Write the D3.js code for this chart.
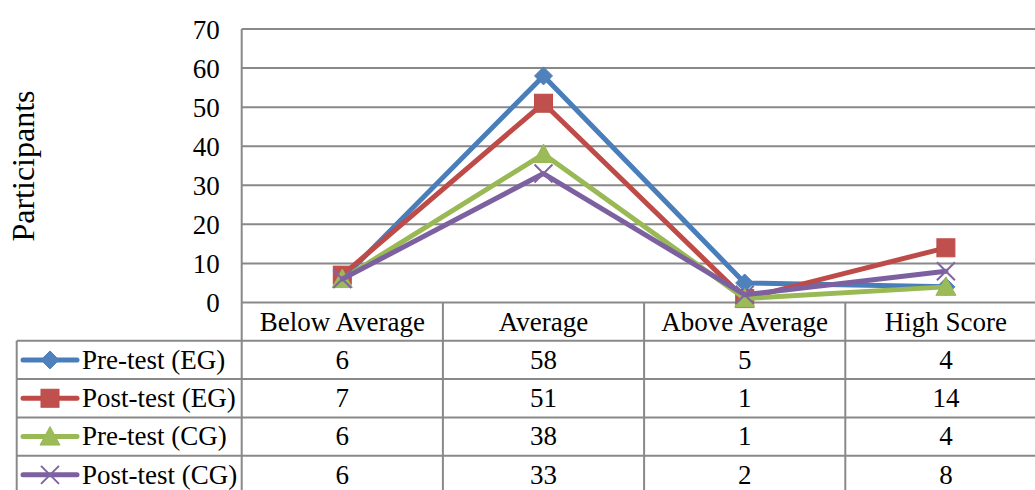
<!DOCTYPE html>
<html>
<head>
<meta charset="utf-8">
<script src="https://cdn.jsdelivr.net/npm/d3@7"></script>
<style>
  html, body { margin: 0; padding: 0; background: #fff; }
  svg, svg text { font-family: "Liberation Serif", "Times New Roman", Times, Tinos, "DejaVu Serif", serif; }
</style>
</head>
<body>
<svg id="chart" width="1035" height="490"></svg>
<script>
// Score bands shown along the x axis and as table headers
const categories = ["Below Average", "Average", "Above Average", "High Score"];

// Participant counts per band for each test group
const seriesNames = ["Pre-test (EG)", "Post-test (EG)", "Pre-test (CG)", "Post-test (CG)"];
const preTestEG  = [6, 58, 5, 4];
const postTestEG = [7, 51, 1, 14];
const preTestCG  = [6, 38, 1, 4];
const postTestCG = [6, 33, 2, 8];

const yTicks = [0, 10, 20, 30, 40, 50, 60, 70];
const yLabel = "Participants";

const seriesColors = ["#4A7EBB", "#BE4B48", "#98B954", "#7D60A0"];
const markerFills  = ["#4F81BD", "#C0504D", "#9BBB59", "#8064A2"];
const markerKinds  = ["diamond", "square", "triangle", "cross"];

const series = [preTestEG, postTestEG, preTestCG, postTestCG].map((values, i) => ({
  name: seriesNames[i], values, color: seriesColors[i], fill: markerFills[i], kind: markerKinds[i]
}));

const FONT = '"Liberation Serif", "Times New Roman", Times, Tinos, "DejaVu Serif", serif';
const svg = d3.select("#chart").attr("font-family", FONT);
const W = 1035;
const gridColor = "#898989";
const fontSize = 27;

// Plot geometry
const plotLeft = 241.7, plotTop = 29, plotBottom = 302.5;
const colWidth = 201.2;
const plotRight = plotLeft + colWidth * categories.length;

const x = d3.scaleBand().domain(categories).range([plotLeft, plotRight]).padding(0);
const y = d3.scaleLinear().domain([0, 70]).range([plotBottom, plotTop]);
const cx = c => x(c) + x.bandwidth() / 2;

svg.append("rect").attr("width", W).attr("height", 490).attr("fill", "#fff");

// Horizontal gridlines
svg.append("g").selectAll("line").data(yTicks).join("line")
  .attr("x1", plotLeft).attr("x2", W)
  .attr("y1", d => y(d)).attr("y2", d => y(d))
  .attr("stroke", gridColor).attr("stroke-width", 2);

// Y axis labels
const yAxis = d3.axisLeft(y).tickValues(yTicks).tickSize(0).tickPadding(22);
const yg = svg.append("g").attr("transform", `translate(${plotLeft},0)`).call(yAxis)
  .attr("font-family", FONT).attr("font-size", fontSize);
yg.select(".domain").remove();
yg.selectAll("text")
  .attr("font-family", FONT)
  .attr("font-size", fontSize).attr("fill", "#000").attr("dy", "0.34em");

// Y axis title
svg.append("text")
  .attr("transform", `translate(34,166) rotate(-90)`)
  .attr("text-anchor", "middle")
  .attr("font-family", FONT)
  .attr("font-size", 32).attr("fill", "#000")
  .text(yLabel);

// Data table geometry
const headerTop = plotBottom;
const rowH = 38.3;
const tableLeft = 16.7;
const tableBottom = headerTop + rowH * (1 + series.length);

const table = svg.append("g").attr("font-family", FONT);
// Row separators below the header
d3.range(1, series.length + 1).forEach(r => {
  table.append("line")
    .attr("x1", tableLeft).attr("x2", W)
    .attr("y1", headerTop + rowH * r).attr("y2", headerTop + rowH * r)
    .attr("stroke", gridColor).attr("stroke-width", 2);
});
// Legend column left edge
table.append("line")
  .attr("x1", tableLeft).attr("x2", tableLeft)
  .attr("y1", headerTop + rowH).attr("y2", tableBottom)
  .attr("stroke", gridColor).attr("stroke-width", 2);
// Plot left axis line and column separators
table.append("line")
  .attr("x1", plotLeft).attr("x2", plotLeft)
  .attr("y1", plotTop).attr("y2", tableBottom)
  .attr("stroke", gridColor).attr("stroke-width", 2);
categories.slice(1).forEach(c => {
  table.append("line")
    .attr("x1", x(c)).attr("x2", x(c))
    .attr("y1", headerTop).attr("y2", tableBottom)
    .attr("stroke", gridColor).attr("stroke-width", 2);
});

// Header labels
table.selectAll("text.head").data(categories).join("text")
  .attr("class", "head")
  .attr("x", d => cx(d)).attr("y", headerTop + rowH / 2)
  .attr("dy", "0.33em").attr("text-anchor", "middle")
  .attr("font-size", fontSize).attr("fill", "#000")
  .text(d => d);

// Value cells
series.forEach((s, i) => {
  const rowMid = headerTop + rowH * (i + 1) + rowH / 2;
  table.append("g").selectAll("text").data(s.values).join("text")
    .attr("x", (d, j) => cx(categories[j])).attr("y", rowMid)
    .attr("dy", "0.33em").attr("text-anchor", "middle")
    .attr("font-size", fontSize).attr("fill", "#000")
    .text(d => d);
});

// Marker drawing
function drawMarker(g, kind, px, py, color, fill) {
  if (kind === "diamond") {
    const r = 9;
    g.append("path").attr("d", `M${px},${py - r}L${px + r},${py}L${px},${py + r}L${px - r},${py}Z`)
      .attr("fill", fill).attr("stroke", color).attr("stroke-width", 1);
  } else if (kind === "square") {
    const r = 9;
    g.append("rect").attr("x", px - r).attr("y", py - r).attr("width", 2 * r).attr("height", 2 * r)
      .attr("fill", fill).attr("stroke", color).attr("stroke-width", 1);
  } else if (kind === "triangle") {
    const r = 10;
    g.append("path").attr("d", `M${px},${py - r}L${px + r},${py + r * 0.85}L${px - r},${py + r * 0.85}Z`)
      .attr("fill", fill).attr("stroke", color).attr("stroke-width", 1);
  } else {
    const r = 9;
    g.append("path").attr("d", `M${px - r},${py - r}L${px + r},${py + r}M${px - r},${py + r}L${px + r},${py - r}`)
      .attr("fill", "none").attr("stroke", fill).attr("stroke-width", 2);
  }
}

// Series lines and markers
const line = d3.line().x((d, j) => cx(categories[j])).y(d => y(d));
const marks = svg.append("g");
series.forEach(s => {
  const g = marks.append("g");
  g.append("path").datum(s.values).attr("d", line)
    .attr("fill", "none").attr("stroke", s.color).attr("stroke-width", 5)
    .attr("stroke-linejoin", "round").attr("stroke-linecap", "round");
  s.values.forEach((v, j) => drawMarker(g, s.kind, cx(categories[j]), y(v), s.color, s.fill));
});

// Legend keys inside the table
series.forEach((s, i) => {
  const rowMid = headerTop + rowH * (i + 1) + rowH / 2;
  const g = svg.append("g").attr("font-family", FONT);
  g.append("line").attr("x1", 23).attr("x2", 77).attr("y1", rowMid).attr("y2", rowMid)
    .attr("stroke", s.color).attr("stroke-width", 5).attr("stroke-linecap", "round");
  drawMarker(g, s.kind, 50, rowMid, s.color, s.fill);
  g.append("text").attr("x", 82).attr("y", rowMid).attr("dy", "0.33em")
    .attr("font-size", fontSize).attr("fill", "#000").text(s.name);
});
</script>
</body>
</html>
